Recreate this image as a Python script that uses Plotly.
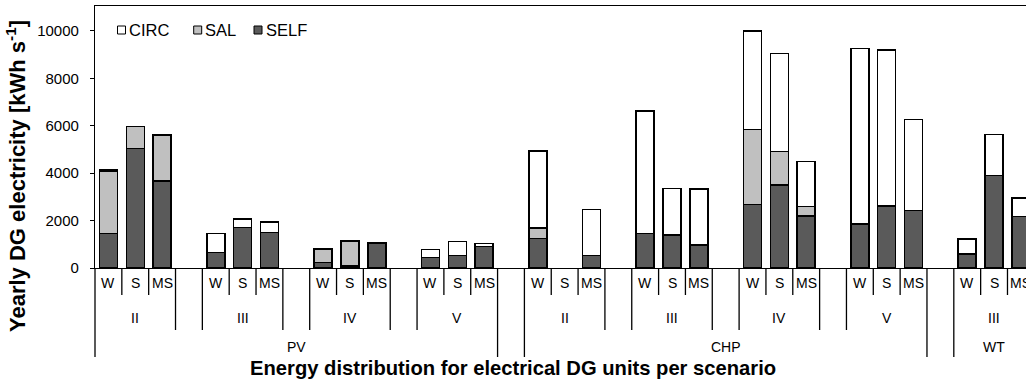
import plotly.graph_objects as go

# ---------------- data ----------------
cat_tech = ["PV"] * 15 + [""] + ["CHP"] * 15 + [""] + ["WT"] * 3
cat_scen = ["II", "II", "II", "", "III", "III", "III", "", "IV", "IV", "IV", "", "V", "V", "V",
            "",
            "II", "II", "II", "", "III", "III", "III", "", "IV", "IV", "IV", "", "V", "V", "V",
            "",
            "III", "III", "III"]
cat_season = ["W", "S", "MS", "", "W", "S", "MS", "", "W", "S", "MS", "", "W", "S", "MS",
              "",
              "W", "S", "MS", "", "W", "S", "MS", "", "W", "S", "MS", "", "W", "S", "MS",
              "",
              "W", "S", "MS"]

self_vals = [1450, 5030, 3680, None, 660, 1700, 1490, None, 240, 80, 1040, None, 450, 520, 910,
             None,
             1240, None, 530, None, 1460, 1400, 980, None, 2670, 3510, 2200, None, 1850, 2610, 2430,
             None,
             600, 3900, 2180]
sal_vals = [2640, 940, 1920, None, None, None, None, None, 560, 1030, None, None, None, None, None,
            None,
            450, None, None, None, None, None, None, None, 3170, 1400, 400, None, None, None, None,
            None,
            None, None, None]
circ_vals = [60, None, 30, None, 790, 365, 460, None, None, 40, 30, None, 330, 590, 130,
             None,
             3250, None, 1930, None, 5170, 1950, 2350, None, 4150, 4130, 1890, None, 7400, 6580, 3830,
             None,
             620, 1730, 770]

series_names = ["CIRC", "SAL", "SELF"]
y_ticks = [0, 2000, 4000, 6000, 8000, 10000]
y_tick_text = ["0", "2000", "4000", "6000", "8000", "10000"]

# ---------------- layout constants ----------------
FONT = "Liberation Sans, Arial, sans-serif"
W, H = 1026, 385
M_L, M_R, M_T, M_B = 95, 0, 6, 117
PLOT_W = W - M_L - M_R
PLOT_H = H - M_T - M_B
X_MIN, X_MAX = -0.5, 34.19
colors = {"SELF": "#5a5a5a", "SAL": "#c0c0c0", "CIRC": "#ffffff"}
n = len(cat_season)
xs = list(range(n))


def py(px):  # figure pixel (from top) -> paper y
    return (H - M_B - px) / PLOT_H


def pxx(px):  # figure pixel (from left) -> paper x
    return (px - M_L) / PLOT_W


def ax2paper(v):
    return (v - X_MIN) / (X_MAX - X_MIN)


fig = go.Figure()
for name, vals in [("SELF", self_vals), ("SAL", sal_vals), ("CIRC", circ_vals)]:
    fig.add_trace(go.Bar(
        x=xs, y=vals, name=name, width=0.67,
        marker=dict(color=colors[name], line=dict(color="black", width=1.5)),
        showlegend=False,
    ))

shapes = []
annotations = []

# separators of the multi-level category axis
ends = {1: py(295), 2: py(330), 3: py(357)}
for b in range(n + 1):
    if b == 0 or b == n:
        lvl = 3
    elif cat_tech[b - 1] != cat_tech[b]:
        lvl = 3
    elif cat_scen[b - 1] != cat_scen[b]:
        lvl = 2
    else:
        lvl = 1
    xp = ax2paper(b - 0.5)
    if xp > 1.01:
        continue
    shapes.append(dict(type="line", xref="paper", yref="paper", x0=xp, x1=xp, y0=0, y1=ends[lvl],
                       line=dict(color="black", width=1.3)))

lab_font = dict(family=FONT, size=14, color="black")
# level 1 labels
for i, s in enumerate(cat_season):
    if s:
        annotations.append(dict(x=i, y=py(283), xref="x", yref="paper", text=s, showarrow=False,
                                font=lab_font, xanchor="center", yanchor="middle"))


def runs(keys):
    out = []
    start = 0
    for i in range(1, n + 1):
        if i == n or keys[i] != keys[start]:
            out.append((keys[start], start, i - 1))
            start = i
    return out


for (tech, scen), a, b in runs(list(zip(cat_tech, cat_scen))):
    if scen:
        annotations.append(dict(x=(a + b) / 2, y=py(318), xref="x", yref="paper", text=scen,
                                showarrow=False, font=lab_font, xanchor="center", yanchor="middle"))
for tech, a, b in runs(cat_tech):
    if tech:
        annotations.append(dict(x=(a + b) / 2, y=py(347), xref="x", yref="paper", text=tech,
                                showarrow=False, font=lab_font, xanchor="center", yanchor="middle"))

# axis titles
annotations.append(dict(x=pxx(512.5), y=py(368), xref="paper", yref="paper",
                        text="<b>Energy distribution for electrical DG units per scenario</b>",
                        showarrow=False, font=dict(family=FONT, size=20.2, color="black"),
                        xanchor="center", yanchor="middle"))
annotations.append(dict(x=pxx(16), y=py(176), xref="paper", yref="paper",
                        text="<b>Yearly DG electricity [kWh s<sup>-1</sup>]</b>", textangle=-90,
                        showarrow=False, font=dict(family=FONT, size=22, color="black"),
                        xanchor="center", yanchor="middle"))

# custom legend (square + text)
leg_sq_x = [121.5, 197.7, 258.0]
for name, cx in zip(series_names, leg_sq_x):
    shapes.append(dict(type="rect", xref="paper", yref="paper",
                       x0=pxx(cx - 4), x1=pxx(cx + 4), y0=py(34), y1=py(26),
                       fillcolor=colors[name], line=dict(color="black", width=1)))
    annotations.append(dict(x=pxx(cx + 5.5), y=py(30), xref="paper", yref="paper", text=name,
                            showarrow=False, font=dict(family=FONT, size=16.5, color="black"),
                            xanchor="left", yanchor="middle"))

fig.update_layout(
    width=W, height=H,
    margin=dict(l=M_L, r=M_R, t=M_T, b=M_B, pad=0),
    barmode="stack",
    plot_bgcolor="white", paper_bgcolor="white",
    font=dict(family=FONT, color="black"),
    shapes=shapes, annotations=annotations,
    xaxis=dict(range=[X_MIN, X_MAX], showticklabels=False, ticks="", showgrid=False,
               zeroline=False, showline=True, linecolor="black", linewidth=1.3, mirror=True),
    yaxis=dict(range=[0, 11050], tickvals=y_ticks, ticktext=y_tick_text, ticks="outside",
               ticklen=4, tickwidth=1, tickcolor="black", showgrid=False, zeroline=False,
               showline=True, linecolor="black", linewidth=1.3,
               tickfont=dict(family=FONT, size=15, color="black"), ticklabelstandoff=8),
)

fig.write_html("out.html")
